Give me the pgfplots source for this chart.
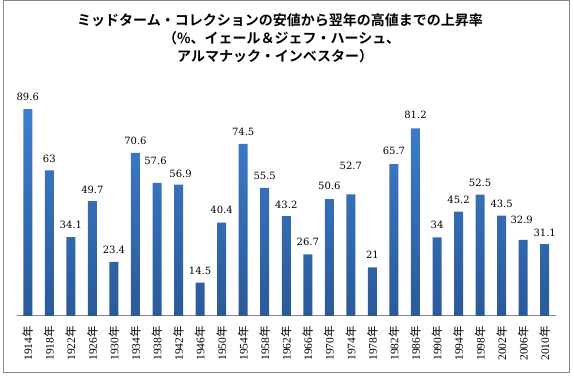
\documentclass[border=0pt]{standalone}
\usepackage{fontspec}
\usepackage{pgfplots}
\pgfplotsset{compat=1.18}
\setmainfont{Liberation Sans}
\newfontfamily\jp{Noto Sans CJK JP}
\newfontfamily\jpb{Noto Sans CJK JP Bold}
\newfontfamily\ser{Liberation Serif}
\newfontfamily\dser{DejaVu Serif}
\definecolor{bartop}{RGB}{62,126,206}
\definecolor{barbot}{RGB}{42,90,152}
\definecolor{frame}{RGB}{134,134,134}
\newcommand{\Y}[1]{{\ser #1}{\jp 年}}
\begin{document}
\begin{tikzpicture}
\path[use as bounding box] (0,0) rectangle (574pt,378pt);
\draw[frame, line width=1pt] (3.5pt,5.5pt) rectangle (569.5pt,377pt);
\node[anchor=west, inner sep=0pt, font=\jpb\fontsize{14}{14}\selectfont] at (77pt,358pt) {ミッドターム・コレクションの安値から翌年の高値までの上昇率};
\node[anchor=west, inner sep=0pt, font=\jpb\fontsize{14}{14}\selectfont] at (163pt,340pt) {（\%、イェール＆ジェフ・ハーシュ、};
\node[anchor=west, inner sep=0pt, font=\jpb\fontsize{14}{14}\selectfont] at (177pt,321.5pt) {アルマナック・インベスター）};
\begin{axis}[
  at={(17pt,62pt)}, anchor=south west,
  scale only axis, width=538.5pt, height=231pt,
  xmin=-0.5, xmax=24.5, ymin=0, ymax=100,
  axis x line=bottom, axis y line=none,
  x axis line style={frame, line width=1pt, -},
  ytick=\empty,
  xtick={0,...,24}, major tick length=0pt,
  xticklabels={\Y{1914},\Y{1918},\Y{1922},\Y{1926},\Y{1930},\Y{1934},\Y{1938},\Y{1942},\Y{1946},\Y{1950},\Y{1954},\Y{1958},\Y{1962},\Y{1966},\Y{1970},\Y{1974},\Y{1978},\Y{1982},\Y{1986},\Y{1990},\Y{1994},\Y{1998},\Y{2002},\Y{2006},\Y{2010}},
  xticklabel style={rotate=90, anchor=east, inner sep=0pt, font=\fontsize{11.5}{11.5}\selectfont, yshift=0pt, xshift=-10pt},
  clip=false,
  ybar, bar width=9pt,
  nodes near coords,
  visualization depends on={\thisrow{dy} \as \dy},
  visualization depends on={\thisrow{dx} \as \dx},
  every node near coord/.append style={anchor=south, inner sep=0pt, yshift=\dy pt, xshift=\dx pt, font=\dser\fontsize{10}{10}\selectfont, black},
  point meta=explicit symbolic,
]
\addplot[draw=none, shading=axis, top color=bartop, bottom color=barbot] table[meta=label] {
x y label dy dx
0 89.6 89.6 8.3 0
1 63 63 8 0
2 34.1 34.1 8 0
3 49.7 49.7 7.7 0
4 23.4 23.4 8 0
5 70.6 70.6 8 0
6 57.6 57.6 18 -1.5
7 56.9 56.9 7 2
8 14.5 14.5 8 0
9 40.4 40.4 9.3 0
10 74.5 74.5 8.3 0
11 55.5 55.5 8 0
12 43.2 43.2 7.7 0
13 26.7 26.7 8.7 0
14 50.6 50.6 9 0
15 52.7 52.7 24.3 0
16 21 21 9 0
17 65.7 65.7 9 0
18 81.2 81.2 9.7 0
19 34 34 9 0
20 45.2 45.2 8 0
21 52.5 52.5 8.3 0
22 43.5 43.5 7.7 0
23 32.9 32.9 16 -1.5
24 31.1 31.1 7.3 0
};
\end{axis}
\end{tikzpicture}
\end{document}
